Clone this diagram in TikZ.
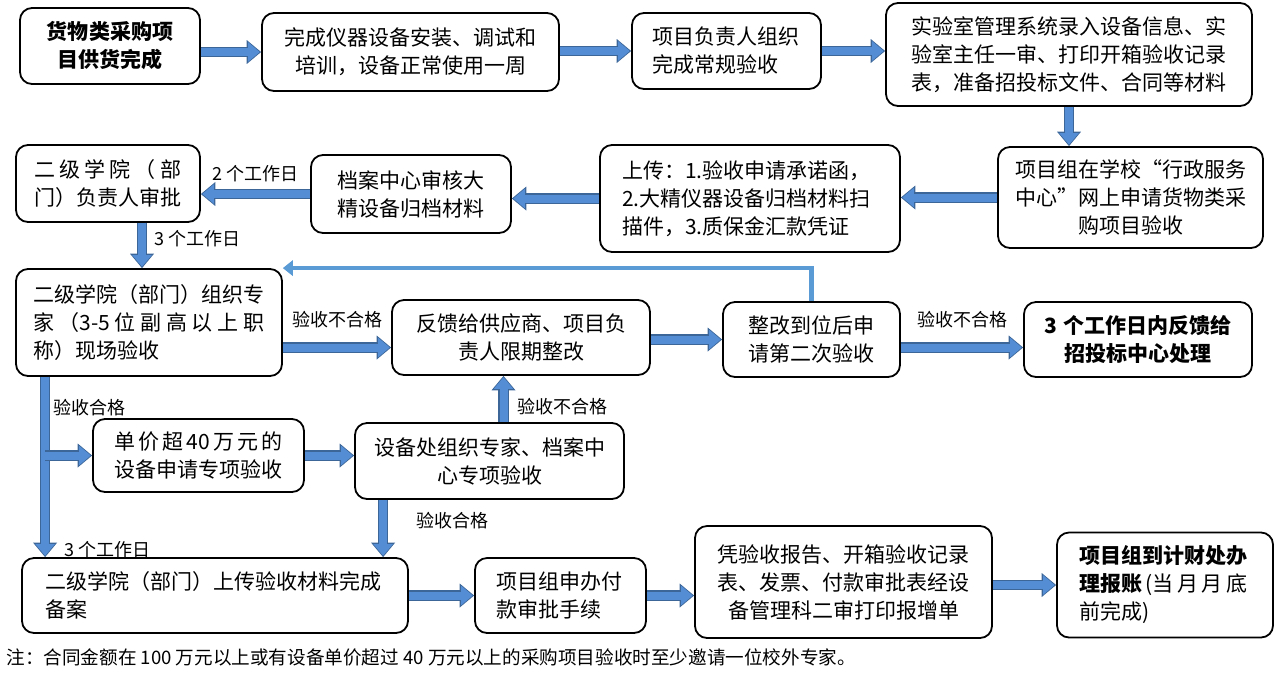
\documentclass[tikz,border=0pt]{standalone}
\usepackage{fontspec}
\setmainfont{Noto Sans CJK SC}
\usetikzlibrary{arrows.meta}
\definecolor{flowfill}{RGB}{84,141,212}
\definecolor{flowedge}{RGB}{60,102,152}
\definecolor{backline}{RGB}{91,155,213}
\newcommand\boxfont{\fontsize{10.5pt}{14pt}\selectfont}
\newcommand\spread[2]{\makebox[#1][s]{#2}}
\tikzset{
  box/.style={draw, line width=0.9pt, rounded corners=6pt, inner sep=0pt, font=\boxfont, align=center},
  flow/.style={draw=flowedge, line width=5.2pt,
    -{Triangle[length=7.2pt 0 0,width=12pt 0 0,line width=0pt 0 0]},
    postaction={draw=flowfill, line width=4pt, shorten >=0.7pt,
      -{Triangle[length=5.8pt 0 0,width=9.8pt 0 0,line width=0pt 0 0]}}},
  back/.style={draw=backline, line width=2.2pt,
    -{Triangle[length=5pt 0 0,width=8pt 0 0,line width=0pt 0 0]}},
  lbl/.style={font=\fontsize{9pt}{11pt}\selectfont, inner sep=1pt},
}
\begin{document}
\begin{tikzpicture}[x=0.5pt,y=-0.5pt]
\useasboundingbox (0,0) rectangle (1278,676);
\node[box, minimum width=90pt, minimum height=38pt, text width=66pt, font=\boxfont\bfseries] (goods) at (110,46) {货物类采购项\\目供货完成};
\node[box, minimum width=148.5pt, minimum height=39pt, text width=128pt] (install) at (410.5,52) {完成仪器设备安装、调试和\\培训，设备正常使用一周};
\node[box, minimum width=94.5pt, minimum height=38pt, text width=74pt, align=left] (routine) at (726.5,51) {项目负责人组织\\完成常规验收};
\node[box, minimum width=183pt, minimum height=51.5pt, text width=158pt, align=left] (record) at (1069,54.5) {实验室管理系统录入设备信息、实\\验室主任一审、打印开箱验收记录\\表，准备招投标文件、合同等材料};
\node[box, minimum width=132.5pt, minimum height=50.5pt, text width=118pt] (apply) at (1130.5,197.5) {项目组在学校“行政服务\\中心”网上申请货物类采\\购项目验收};
\node[box, minimum width=150pt, minimum height=53.5pt, text width=128pt, align=left] (upload) at (750,198.5) {上传：1.验收申请承诺函，\\2.大精仪器设备归档材料扫\\描件，3.质保金汇款凭证};
\node[box, minimum width=100pt, minimum height=39pt, text width=76pt] (archive) at (411,194) {档案中心审核大\\精设备归档材料};
\node[box, minimum width=92pt, minimum height=38.5pt, text width=74pt, align=left] (deptok) at (108,183.5) {\spread{7em}{二\hfil 级\hfil 学\hfil 院\hfil （\hfil 部}\\门）负责人审批};
\node[box, minimum width=133pt, minimum height=53.5pt, text width=116pt, align=left] (onsite) at (149,322.5) {二级学院（部门）组织专\\\spread{11em}{家\hfil （3-5\hfil 位\hfil 副\hfil 高\hfil 以\hfil 上\hfil 职}\\称）现场验收};
\node[box, minimum width=129pt, minimum height=37.5pt, text width=106pt] (rectify) at (521,337.5) {反馈给供应商、项目负\\责人限期整改};
\node[box, minimum width=88.5pt, minimum height=37.5pt, text width=64pt] (recheck) at (811.5,339.5) {整改到位后申\\请第二次验收};
\node[box, minimum width=114pt, minimum height=37.5pt, text width=100pt, font=\boxfont\bfseries] (tender) at (1138,339.5) {3 个工作日内反馈给\\招投标中心处理};
\node[box, minimum width=105.5pt, minimum height=36.5pt, text width=86pt] (special) at (198.5,455.5) {\spread{8em}{单\hfil 价\hfil 超\hfil 40\hfil 万\hfil 元\hfil 的}\\设备申请专项验收};
\node[box, minimum width=134.5pt, minimum height=38pt, text width=118pt] (expert) at (489.5,461) {设备处组织专家、档案中\\心专项验收};
\node[box, minimum width=193pt, minimum height=37.5pt, text width=170pt, align=left] (filing) at (215,595.5) {二级学院（部门）上传验收材料完成\\备案};
\node[box, minimum width=85.5pt, minimum height=37.5pt, text width=64pt, align=left] (payment) at (560.5,595.5) {项目组申办付\\款审批手续};
\node[box, minimum width=148.5pt, minimum height=56pt, text width=128pt] (report) at (843.5,582) {凭验收报告、开箱验收记录\\表、发票、付款审批表经设\\备管理科二审打印报增单};
\node[box, minimum width=108pt, minimum height=52.5pt, text width=86pt, align=left] (finance) at (1165,585) {\textbf{项目组到计财处办}\\\spread{8em}{\textbf{理报账}\hfil (当\hfil 月\hfil 月\hfil 底}\\前完成)};
\node[anchor=west, inner sep=0pt, font=\fontsize{9.3pt}{11pt}\selectfont] (note) at (6,657) {注：合同金额在 100 万元以上或有设备单价超过 40 万元以上的采购项目验收时至少邀请一位校外专家。};

\draw[flow] (goods.east |- install.west) -- (install.west);
\draw[flow] (install.east |- routine.west) -- (routine.west);
\draw[flow] (routine.east) -- (routine.east -| record.west);
\draw[flow] (record.south) -- (record.south |- apply.north);
\draw[flow] (apply.west) -- (apply.west -| upload.east);
\draw[flow] (upload.west) -- (upload.west -| archive.east);
\draw[flow] (archive.west) -- (archive.west -| deptok.east) node[lbl, midway, above=2.5pt] {2 个工作日};
\coordinate (hdown) at ([xshift=17pt]deptok.south);
\draw[flow] (hdown) -- (hdown |- onsite.north) node[lbl, pos=0.35, right=2.5pt] {3 个工作日};
\draw[back] (recheck.north) |- (onsite.north east);
\coordinate (rin) at ([yshift=-5pt]rectify.west);
\draw[flow] (onsite.east |- rin) -- (rin) node[lbl, midway, above=6pt] {验收不合格};
\draw[flow] (rectify.east |- recheck.west) -- (recheck.west);
\coordinate (kout) at ([yshift=-4pt]recheck.east);
\draw[flow] (kout) -- (kout -| tender.west) node[lbl, midway, above=6pt] {验收不合格};
\coordinate (pass) at ([xshift=15pt]onsite.south west);
\draw[flow] (pass) -- (pass |- filing.north) node[lbl, pos=0.17, right=0.5pt] {验收合格} node[lbl, pos=0.96, right=6pt] {3 个工作日};
\draw[flow] (pass |- special.west) -- (special.west);
\draw[flow] (special.east) -- (special.east -| expert.west);
\coordinate (fail2) at ([xshift=7pt]expert.north);
\draw[flow] (fail2) -- (fail2 |- rectify.south) node[lbl, pos=0.33, right=3.5pt] {验收不合格};
\coordinate (pass2) at ([xshift=14.5pt]expert.south west);
\draw[flow] (pass2) -- (pass2 |- filing.north) node[lbl, pos=0.36, right=13pt] {验收合格};
\draw[flow] (filing.east) -- (payment.west);
\draw[flow] (payment.east) -- (payment.east -| report.west);
\draw[flow] (finance.west -| report.east) -- (finance.west);
\end{tikzpicture}
\end{document}
